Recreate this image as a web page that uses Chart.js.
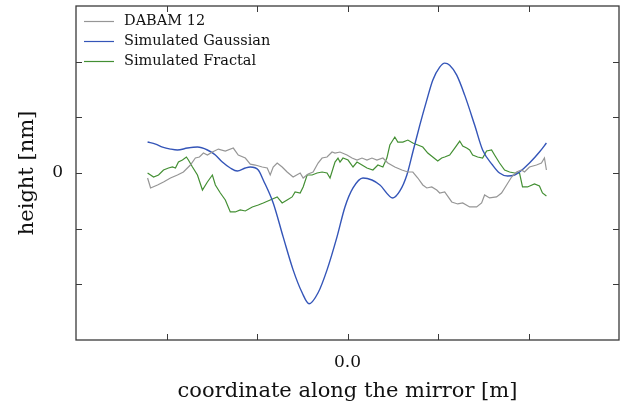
<!DOCTYPE html>
<html>
<head>
<meta charset="utf-8">
<script src="https://cdn.jsdelivr.net/npm/chart.js@4"></script>
<style>
  html, body { margin: 0; padding: 0; background: #fff; }
  #wrap { width: 623px; height: 406px; }
</style>
</head>
<body>
<div id="wrap"><canvas id="profileChart" width="623" height="406"></canvas></div>
<script>
// 読み取った値 (x: 目盛単位, y: 目盛単位)
const dabamX = [-2.209, -2.176, -2.099, -2.033, -1.956, -1.879, -1.813, -1.736, -1.681, -1.636, -1.592, -1.548, -1.493, -1.427, -1.350, -1.262, -1.207, -1.129, -1.074, -1.019, -0.942, -0.887, -0.854, -0.821, -0.777, -0.722, -0.667, -0.601, -0.523, -0.490, -0.435, -0.380, -0.325, -0.281, -0.226, -0.171, -0.138, -0.083, -0.006, 0.050, 0.105, 0.160, 0.215, 0.270, 0.325, 0.391, 0.446, 0.523, 0.601, 0.667, 0.722, 0.777, 0.832, 0.876, 0.931, 0.986, 1.019, 1.074, 1.152, 1.218, 1.273, 1.350, 1.427, 1.482, 1.515, 1.570, 1.647, 1.702, 1.758, 1.813, 1.868, 1.923, 1.956, 2.011, 2.088, 2.143, 2.176, 2.198];
const dabamY = [-0.090, -0.269, -0.215, -0.161, -0.090, -0.036, 0.018, 0.143, 0.269, 0.287, 0.359, 0.323, 0.377, 0.430, 0.395, 0.448, 0.323, 0.269, 0.160, 0.143, 0.108, 0.090, -0.036, 0.108, 0.179, 0.108, 0.018, -0.072, 0.000, -0.090, -0.018, 0.018, 0.179, 0.269, 0.287, 0.377, 0.359, 0.377, 0.323, 0.269, 0.233, 0.269, 0.233, 0.269, 0.233, 0.269, 0.179, 0.108, 0.054, 0.018, 0.018, -0.090, -0.215, -0.269, -0.251, -0.305, -0.359, -0.341, -0.520, -0.556, -0.538, -0.610, -0.610, -0.538, -0.395, -0.448, -0.430, -0.359, -0.215, -0.072, 0.018, 0.054, 0.018, 0.108, 0.143, 0.179, 0.269, 0.054];

const gaussX = [-2.209, -2.121, -2.044, -1.956, -1.879, -1.769, -1.658, -1.548, -1.460, -1.383, -1.295, -1.218, -1.129, -1.074, -0.986, -0.931, -0.821, -0.711, -0.601, -0.501, -0.424, -0.325, -0.226, -0.116, -0.028, 0.061, 0.171, 0.270, 0.358, 0.501, 0.579, 0.656, 0.722, 0.799, 0.876, 0.942, 1.019, 1.074, 1.129, 1.207, 1.295, 1.405, 1.493, 1.603, 1.680, 1.769, 1.846, 1.901, 2.011, 2.121, 2.198];
const gaussY = [0.556, 0.520, 0.466, 0.430, 0.413, 0.448, 0.466, 0.413, 0.323, 0.197, 0.090, 0.036, 0.090, 0.108, 0.054, -0.126, -0.538, -1.148, -1.740, -2.152, -2.350, -2.152, -1.740, -1.148, -0.610, -0.269, -0.090, -0.126, -0.215, -0.448, -0.323, -0.036, 0.377, 0.861, 1.309, 1.668, 1.901, 1.973, 1.937, 1.758, 1.399, 0.861, 0.413, 0.143, 0.000, -0.054, -0.036, 0.018, 0.179, 0.377, 0.538];

const fractalX = [-2.209, -2.176, -2.143, -2.088, -2.033, -1.978, -1.934, -1.901, -1.868, -1.824, -1.780, -1.758, -1.713, -1.658, -1.603, -1.548, -1.493, -1.460, -1.405, -1.350, -1.295, -1.240, -1.185, -1.129, -1.052, -0.986, -0.931, -0.854, -0.777, -0.722, -0.667, -0.612, -0.579, -0.523, -0.490, -0.446, -0.391, -0.336, -0.281, -0.226, -0.193, -0.138, -0.105, -0.083, -0.050, 0.006, 0.061, 0.105, 0.160, 0.215, 0.281, 0.336, 0.391, 0.435, 0.468, 0.523, 0.556, 0.612, 0.667, 0.722, 0.777, 0.832, 0.887, 0.942, 0.997, 1.041, 1.074, 1.129, 1.185, 1.240, 1.273, 1.317, 1.350, 1.383, 1.438, 1.493, 1.537, 1.592, 1.625, 1.680, 1.736, 1.791, 1.846, 1.901, 1.934, 1.989, 2.066, 2.121, 2.154, 2.198];
const fractalY = [0.000, -0.036, -0.072, -0.036, 0.054, 0.090, 0.108, 0.090, 0.197, 0.233, 0.287, 0.233, 0.108, -0.036, -0.305, -0.161, -0.036, -0.215, -0.359, -0.484, -0.700, -0.700, -0.664, -0.682, -0.610, -0.574, -0.538, -0.484, -0.430, -0.538, -0.484, -0.430, -0.341, -0.359, -0.251, -0.036, -0.036, 0.000, 0.018, 0.000, -0.090, 0.197, 0.269, 0.197, 0.269, 0.233, 0.108, 0.197, 0.143, 0.090, 0.054, 0.143, 0.108, 0.269, 0.502, 0.646, 0.556, 0.556, 0.592, 0.538, 0.502, 0.466, 0.359, 0.287, 0.215, 0.269, 0.287, 0.323, 0.448, 0.574, 0.484, 0.448, 0.413, 0.323, 0.287, 0.269, 0.395, 0.413, 0.323, 0.179, 0.054, 0.018, 0.000, 0.000, -0.251, -0.251, -0.197, -0.233, -0.359, -0.413];

// 内側の目盛 (±3 は枠線と重なる)
const tickValues = [-2, -1, 0, 1, 2];

const pts = (xs, ys) => xs.map((x, i) => ({ x: x, y: ys[i] }));
const serif = "'DejaVu Serif', 'Liberation Serif', serif";

// 内向きの目盛と枠線
const frameTicks = {
    id: 'frameTicks',
    afterDraw(chart) {
        const { ctx, chartArea: a, scales } = chart;
        ctx.save();
        ctx.strokeStyle = '#3a3a3a';
        ctx.lineWidth = 1;
        ctx.beginPath();
        scales.x.ticks.forEach(t => {
            const px = Math.round(scales.x.getPixelForValue(t.value)) + 0.5;
            ctx.moveTo(px, a.bottom); ctx.lineTo(px, a.bottom - 6);
            ctx.moveTo(px, a.top); ctx.lineTo(px, a.top + 6);
        });
        scales.y.ticks.forEach(t => {
            const py = Math.round(scales.y.getPixelForValue(t.value)) + 0.5;
            ctx.moveTo(a.left, py); ctx.lineTo(a.left + 6, py);
            ctx.moveTo(a.right, py); ctx.lineTo(a.right - 6, py);
        });
        ctx.stroke();
        ctx.lineWidth = 1.3;
        ctx.strokeRect(a.left, a.top, a.right - a.left, a.bottom - a.top);
        ctx.restore();
    }
};

// 凡例をプロット内の左上に描く
const innerLegend = {
    id: 'innerLegend',
    afterDraw(chart) {
        const { ctx, chartArea: a } = chart;
        ctx.save();
        ctx.font = "14.5px " + serif;
        ctx.textBaseline = 'middle';
        ctx.textAlign = 'left';
        chart.data.datasets.forEach((ds, i) => {
            const y = a.top + 15.5 + i * 20;
            ctx.strokeStyle = ds.borderColor;
            ctx.lineWidth = 1.2;
            ctx.beginPath();
            ctx.moveTo(a.left + 8, y);
            ctx.lineTo(a.left + 38, y);
            ctx.stroke();
            ctx.fillStyle = '#111';
            ctx.fillText(ds.label, a.left + 48, y);
        });
        ctx.restore();
    }
};

new Chart(document.getElementById('profileChart'), {
    type: 'line',
    data: {
        datasets: [
            {
                label: 'DABAM 12',
                data: pts(dabamX, dabamY),
                borderColor: '#969696',
                backgroundColor: '#969696',
                borderWidth: 1.2,
                pointRadius: 0,
                tension: 0
            },
            {
                label: 'Simulated Gaussian',
                data: pts(gaussX, gaussY),
                borderColor: '#3455b8',
                backgroundColor: '#3455b8',
                borderWidth: 1.4,
                pointRadius: 0,
                cubicInterpolationMode: 'monotone'
            },
            {
                label: 'Simulated Fractal',
                data: pts(fractalX, fractalY),
                borderColor: '#438f33',
                backgroundColor: '#438f33',
                borderWidth: 1.2,
                pointRadius: 0,
                tension: 0
            }
        ]
    },
    options: {
        responsive: false,
        animation: false,
        layout: { padding: { top: 6, right: 4, left: 0, bottom: 0 } },
        scales: {
            x: {
                type: 'linear',
                min: -3,
                max: 3,
                afterBuildTicks: s => { s.ticks = tickValues.map(v => ({ value: v })); },
                afterFit: s => { s.height = 66; s.paddingLeft = 0; s.paddingRight = 0; },
                grid: { display: false, drawTicks: false },
                border: { display: false },
                ticks: {
                    color: '#111',
                    padding: 12,
                    maxRotation: 0,
                    autoSkip: false,
                    font: { family: serif, size: 17 },
                    callback: v => (v === 0 ? '0.0' : '')
                },
                title: {
                    display: true,
                    text: 'coordinate along the mirror [m]',
                    color: '#111',
                    padding: { top: 4, bottom: 1.5 },
                    font: { family: serif, size: 21 }
                }
            },
            y: {
                type: 'linear',
                min: -3,
                max: 3,
                afterBuildTicks: s => { s.ticks = tickValues.map(v => ({ value: v })); },
                afterFit: s => { s.width = 76; s.paddingTop = 0; s.paddingBottom = 0; },
                grid: { display: false, drawTicks: false },
                border: { display: false },
                ticks: {
                    color: '#111',
                    padding: 13,
                    autoSkip: false,
                    font: { family: serif, size: 17 },
                    callback: v => (v === 0 ? '0' : '')
                },
                title: {
                    display: true,
                    text: 'height [nm]',
                    color: '#111',
                    padding: { top: 15, bottom: 0 },
                    font: { family: serif, size: 21 }
                }
            }
        },
        plugins: {
            tooltip: { enabled: false },
            legend: { display: false }
        }
    },
    plugins: [frameTicks, innerLegend]
});
</script>
</body>
</html>
